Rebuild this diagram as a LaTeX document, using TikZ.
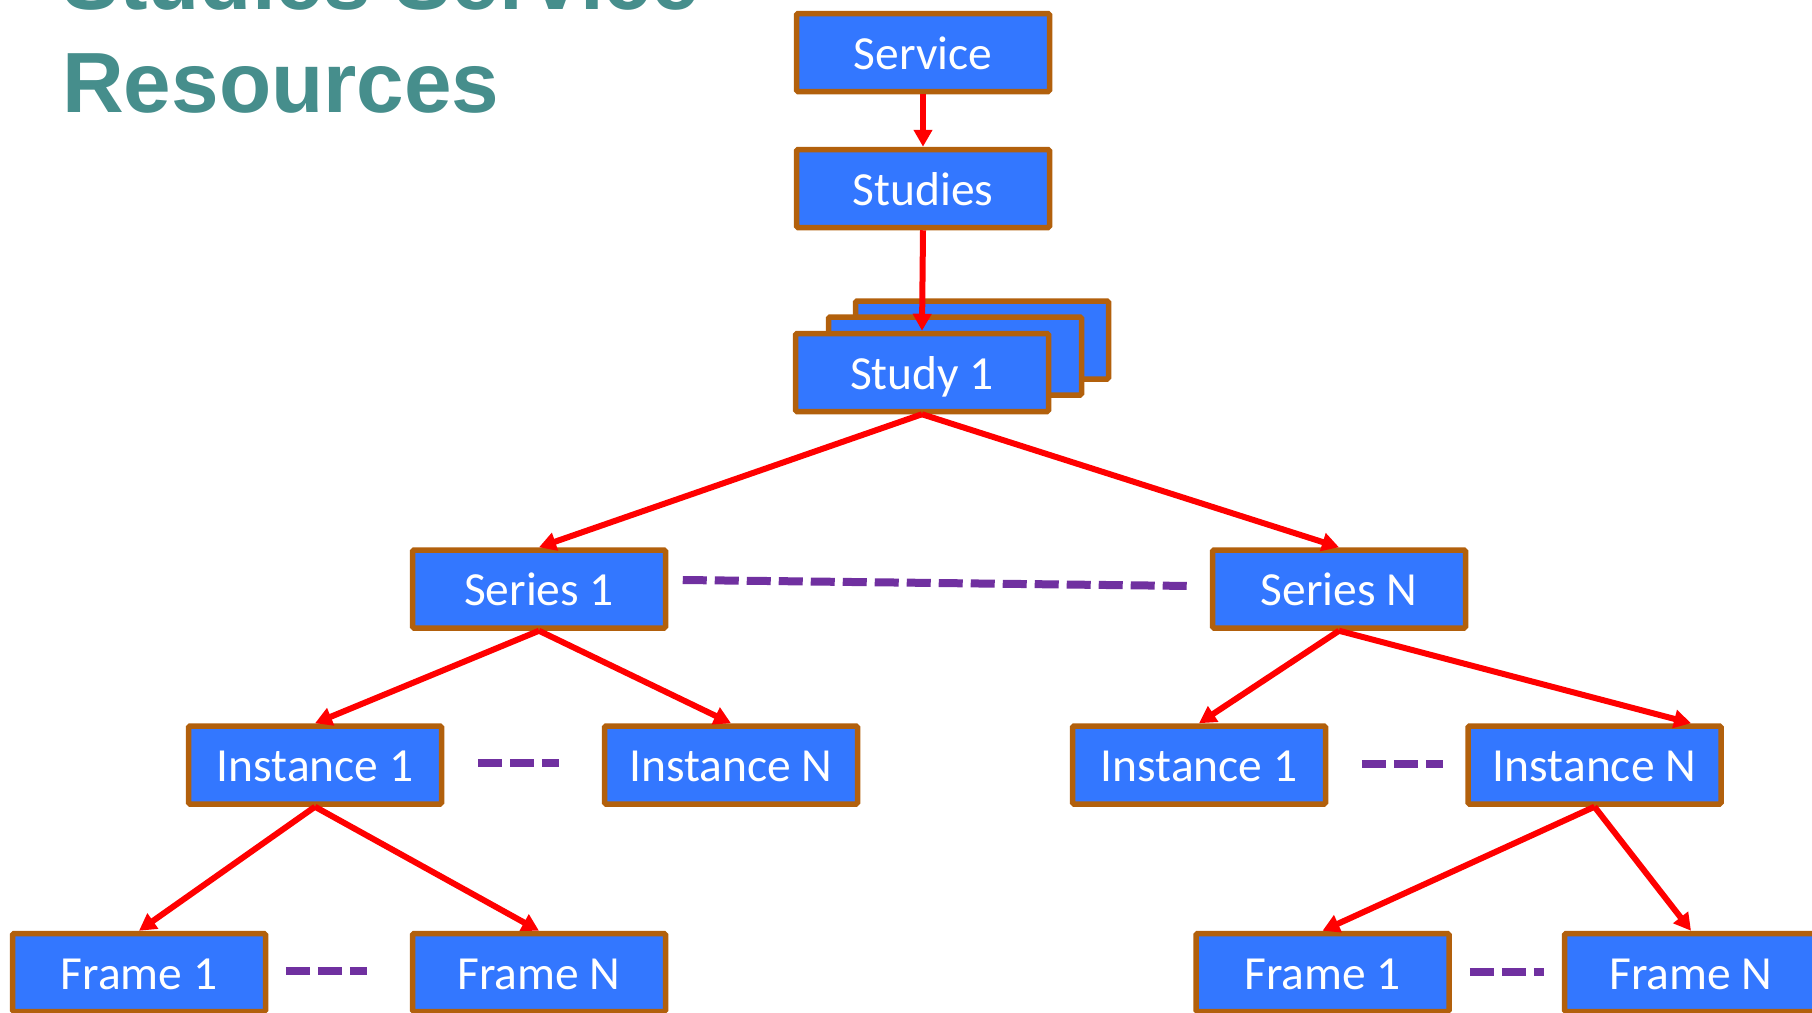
\documentclass[tikz,border=0pt]{standalone}
\usepackage{fontspec}
\setmainfont{Carlito}
\newfontfamily\titlefont{Liberation Sans}
\usetikzlibrary{arrows.meta}
\definecolor{boxfill}{RGB}{51,119,255}
\definecolor{boxedge}{RGB}{178,96,12}
\definecolor{titlecol}{RGB}{70,142,140}
\definecolor{dashcol}{RGB}{112,48,160}
\tikzset{
  box/.style={draw=boxedge, fill=boxfill, line width=5.5pt, rounded corners=1.5pt,
    minimum width=253pt, minimum height=78pt, inner sep=0pt,
    text=white, font=\fontsize{47.5}{56}\selectfont, text height=33pt, text depth=0pt},
  link/.style={draw=red, line width=6pt, -{Triangle[width=18pt,length=17pt]}},
  dashline/.style={draw=dashcol, line width=8pt, dash pattern=on 24pt off 8pt},
  titletext/.style={anchor=base west, inner sep=0pt, text=titlecol,
    font=\titlefont\bfseries\fontsize{85.5}{100}\selectfont}
}
\begin{document}
\begin{tikzpicture}[x=1pt,y=-1pt]
\useasboundingbox (0,0) rectangle (1812,1012);
\clip (0,0) rectangle (1812,1012);
% title
\node[titletext] (t1) at (62,9) {Studies Service};
\node[titletext] (t2) at (62,112) {Resources};
% boxes
\node[box] (service) at (923,52.5) {Service};
\node[box] (studies) at (923,188.5) {Studies};
\node[box] (st3) at (982,340) {};
\node[box] (st2) at (955,356) {};
\node[box] (study1) at (922,372.5) {Study 1};
\node[box] (s1) at (539,589) {Series 1};
\node[box] (sN) at (1339,589) {Series N};
\node[box] (i1L) at (315,765) {Instance 1};
\node[box] (iNL) at (731,765) {Instance N};
\node[box] (i1R) at (1199,765) {Instance 1};
\node[box] (iNR) at (1594.5,765) {Instance N};
\node[box] (f1L) at (139,972.5) {Frame 1};
\node[box] (fNL) at (539,972.5) {Frame N};
\node[box] (f1R) at (1322.5,972.5) {Frame 1};
\node[box] (fNR) at (1691,972.5) {Frame N};
% arrows
\draw[link] (service.south) -- (studies.north);
\draw[link] (studies.south) -- (study1.north);
\draw[link] (study1.south) -- (s1.north);
\draw[link] (study1.south) -- (sN.north);
\draw[link] (s1.south) -- (i1L.north);
\draw[link] (s1.south) -- (iNL.north);
\draw[link] (sN.south) -- (i1R.north);
\draw[link] (sN.south) -- (iNR.north -| fNR.north);
\draw[link] (i1L.south) -- (f1L.north);
\draw[link] (i1L.south) -- (fNL.north);
\draw[link] (iNR.south) -- (f1R.north);
\draw[link] (iNR.south) -- (fNR.north);
% dashed links
\draw[dashline] ([xshift=14.5pt,yshift=9pt]s1.east) -- ([xshift=-18.5pt,yshift=3pt]sN.west);
\draw[dashline] ([xshift=33.5pt,yshift=2pt]i1L.east) -- ([xshift=-42.5pt,yshift=2pt]iNL.west);
\draw[dashline] ([xshift=33.5pt,yshift=1pt]i1R.east) -- ([xshift=-22pt,yshift=1pt]iNR.west);
\draw[dashline] ([xshift=17.5pt,yshift=1.5pt]f1L.east) -- ([xshift=-42.5pt,yshift=1.5pt]fNL.west);
\draw[dashline] ([xshift=18pt,yshift=0.5pt]f1R.east) -- ([xshift=-17.5pt,yshift=0.5pt]fNR.west);
\end{tikzpicture}
\end{document}
